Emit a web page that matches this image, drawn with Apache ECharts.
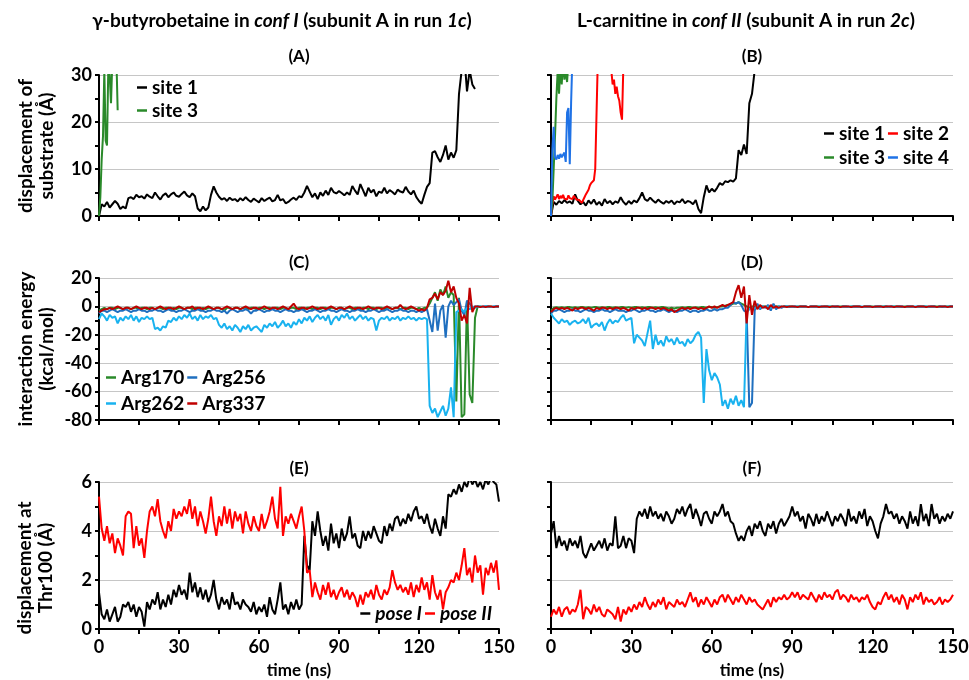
<!DOCTYPE html>
<html>
<head>
<meta charset="utf-8">
<script src="https://cdn.jsdelivr.net/npm/echarts@6/dist/echarts.min.js"></script>
<style>
  html, body { margin: 0; padding: 0; background: #fff; }
  #main { width: 969px; height: 680px; }
</style>
</head>
<body>
<div id="main"></div>
<script>
// time step of the sampled traces (ns)
var STEP = 1;
var STEP_FINE = 0.5;

// (A) displacement of substrate, gamma-butyrobetaine
var aSite1 = [0,2.5,2.0,3.0,1.8,2.5,3.2,2.6,1.5,2.0,1.6,3.8,4.0,3.6,4.5,4.0,4.2,3.7,4.6,4.1,
  3.8,5.0,4.2,3.5,4.4,4.8,4.0,4.6,5.0,4.3,4.1,4.7,5.2,4.4,4.0,4.8,4.2,1.6,1.0,2.0,
  1.2,1.8,4.5,6.3,5.0,4.1,3.5,3.8,3.2,3.9,3.4,3.6,3.1,3.8,3.3,4.0,3.4,3.0,3.7,3.3,
  2.9,3.8,3.2,3.6,3.9,3.1,3.4,4.5,3.3,3.6,2.7,3.0,3.5,3.9,3.4,4.2,4.0,5.0,6.4,5.2,
  4.0,4.8,3.6,5.0,4.3,5.4,4.5,6.0,5.1,4.8,5.3,4.9,4.4,5.0,4.5,6.4,5.4,4.6,6.8,5.5,
  4.2,6.0,5.0,5.6,4.2,5.2,4.9,6.0,4.8,5.5,5.1,4.6,5.6,5.2,5.0,6.2,5.2,4.6,5.4,4.0,
  3.2,2.6,4.5,6.2,7.0,13.5,13.8,12.5,11.5,13.0,15.0,12.0,13.5,12.4,14.0,26.0,31.0,34.0,26.5,31.0,
  28.0,27.0];
var aSite3 = [0,4,12,17,31,16,15,32,30,24,33,35,31,34,22.5];   // 0.5 ns step

// (B) displacement of substrate, L-carnitine
var bSite1 = [0,3.0,2.4,3.2,2.7,3.4,2.8,3.1,2.6,4.6,3.2,2.5,3.0,2.2,3.3,2.6,3.5,2.4,3.0,2.2,
  3.6,2.7,3.2,2.5,3.1,2.8,4.0,3.0,2.4,3.2,2.6,3.3,2.9,3.8,5.0,3.6,3.2,3.9,3.3,2.8,
  3.5,3.0,2.6,3.2,2.8,3.3,2.5,3.1,2.9,3.6,2.7,3.2,3.0,2.5,3.4,1.5,0.6,4.0,6.5,5.0,
  5.8,5.2,6.0,7.0,6.6,7.4,7.2,7.6,7.3,8.0,14.0,13.0,15.2,13.2,24.0,26.0,31.0];
var bSite2 = [0,2.5,4.2,3.5,3.9,4.6,3.6,4.3,3.8,4.5,3.7,4.1,3.5,4.4,3.8,4.2,3.6,4.3,3.9,3.5,
  3.9,3.4,3.2,2.8,3.2,4.0,4.6,5.0,5.6,6.5,7.0,7.2,7.6,10,22,34,40,40,40,40,
  40,40,40,40,40,31,28,29,26,27.5,25.5,24.5,22,20.5,32];      // 0.5 ns step
var bSite3 = [0,3,10,17,25,31,26,32,28,33,29,31,28.5,33];        // 0.5 ns step
var bSite4 = [0,14,19,12.5,12,13,12.2,13.2,12.5,12.8,13.5,11.5,22,23,11,24,34]; // 0.5 ns step

// (C) interaction energy, gamma-butyrobetaine
var cArg170 = [-3,-2,-1,-2,-1,-1,-2,-1,-1,-2,-1,-1,-2,-1,-1,-2,-1,-1,-2,-1,
  -1,-2,-1,-1,-2,-1,-1,-2,-1,-2,-1,-1,-2,-1,-1,-2,-1,-1,-2,-1,
  -2,-1,-1,-2,-1,-1,-2,-3,-1,-1,-2,-1,-1,-2,-1,-1,-2,-1,-1,-2,
  -1,-1,-2,-1,-1,-2,-1,-1,-2,-1,-1,-2,-1,-1,-2,-1,-1,-2,-1,-1,
  -2,-1,-1,-2,-1,-1,-2,-1,-1,-2,-1,-1,-2,-1,-1,-2,-1,-1,-2,-1,
  -1,-2,-1,-1,-2,-1,-1,-2,-1,-1,-2,-1,-1,-2,-1,-1,-2,-1,-1,-2,
  -1,-2,-1,-1,2,6,10,4,12,8,14,6,10,8,-67,6,-78,-76,4,-62,
  -68,-8,0,0,-0.5,0,0,0,-0.5,0,0];
var cArg256 = [-5,-3,-3,-4,-3,-2,-3,-4,-3,-3,-2,-3,-4,-3,-3,-2,-3,-3,-4,-3,
  -3,-2,-3,-3,-4,-3,-2,-3,-3,-4,-3,-3,-2,-3,-4,-3,-3,-2,-3,-3,
  -4,-3,-3,-2,-3,-3,-4,-3,-5,-3,-2,-3,-4,-3,-3,-2,-3,-5,-3,-3,
  -2,-3,-4,-3,-3,-2,-3,-3,-4,-3,-2,-3,-3,-4,-3,-3,-2,-3,-4,-3,
  -3,-2,-3,-4,-3,-3,-2,-3,-3,-4,-3,-2,-3,-3,-4,-3,-3,-2,-3,-3,
  -4,-3,-3,-2,-3,-4,-3,-3,-2,-3,-4,-3,-3,-2,-3,-3,-4,-3,-3,-4,
  -3,-4,-3,-2,-10,-18,2,-17,-3,1,-22,0,4,1,3,5,-3,-6,4,2,
  -1,0,0,-0.5,0,0,0,-0.5,0,0,0];
var cArg262 = [-9,-5,-7,-10,-6,-8,-7,-12,-8,-10,-7,-9,-6,-10,-7,-11,-8,-9,-7,-9,
  -8,-16,-15,-17,-14,-15,-10,-11,-8,-10,-7,-9,-6,-8,-5,-9,-7,-10,-6,-9,
  -7,-8,-6,-9,-8,-13,-15,-12,-16,-14,-17,-13,-15,-18,-14,-16,-13,-17,-15,-14,
  -16,-18,-13,-15,-12,-14,-11,-15,-13,-10,-14,-12,-15,-11,-13,-9,-12,-8,-10,-7,
  -11,-8,-6,-9,-7,-10,-6,-13,-9,-7,-10,-6,-8,-5,-9,-7,-10,-8,-6,-9,
  -7,-10,-8,-9,-17,-10,-8,-9,-7,-10,-8,-9,-7,-10,-8,-9,-7,-9,-8,-10,
  -8,-9,-8,-9,-70,-75,-72,-78,-74,-70,-77,-72,-57,-78,-4,-3,-2,-4,-1,-2,
  0,-1,0,0,-0.5,0,0,-0.5,0,0,0];
var cArg337 = [-4,-3,-2,-2,-1,-2,-1,0,-1,-2,-1,-1,-2,-1,0,-1,-2,-1,-1,-2,
  -1,-2,-1,0,-1,-2,-1,-1,-2,-1,0,-1,-2,-1,-1,0,-2,-1,-1,-2,
  -1,0,-1,-2,-1,-1,-2,-1,0,-1,-2,-1,-1,-2,-1,0,-1,-2,-1,-1,
  -2,-1,0,-1,-2,-1,-1,-2,-1,0,-1,-2,0,2,-1,-2,-1,-1,-2,-1,
  0,-1,-2,-1,-1,-2,-1,0,-1,-2,-1,-1,-2,-1,0,-1,-2,-1,-1,-2,
  -1,0,-1,-2,-1,-1,-2,-1,0,-1,-2,-1,-1,1,-1,-2,-1,0,-1,-2,
  -3,-2,-3,-1,5,6,9,5,10,8,11,18,10,14,6,2,-10,-6,-12,13,
  -4,0,0,-0.5,0,-0.5,0,0,-0.5,0,0];

// (D) interaction energy, L-carnitine
var dArg170 = [-3,-1,-0.5,-1,-0.5,-1,-0.5,-0.5,-1,-0.5,-1,-0.5,-0.5,-1,-0.5,-1,-0.5,-0.5,-1,-0.5,
  -1,-0.5,-0.5,-1,-0.5,-1,-0.5,-0.5,-1,-0.5,-1,-0.5,-0.5,-1,-0.5,-1,-0.5,-0.5,-1,-0.5,
  -1,-0.5,-0.5,-1,-1.5,-1,-1.5,-1,-1,-0.5,-1,-0.5,-0.5,-1,-0.5,-1,-0.5,-0.5,-1,-0.5,
  -0.5,-1,-0.5,0,0,0.5,1,1,2,2,3,2,1,0,-1,0,0,0,0,0,
  0,-0.5,0,0,0,0,-0.5,0,0,0,0,-0.5,0,0,0,0,-0.5,0,0,0,
  0,-0.5,0,0,0,0,-0.5,0,0,0,0,-0.5,0,0,0,0,-0.5,0,0,0,
  0,-0.5,0,0,0,0,-0.5,0,0,0,0,-0.5,0,0,0,0,-0.5,0,0,0,
  0,-0.5,0,0,0,0,-0.5,0,0,0,0];
var dArg256 = [-5,-3,-3,-2,-3,-4,-3,-3,-2,-3,-3,-4,-3,-2,-3,-3,-4,-3,-3,-2,
  -3,-3,-4,-3,-2,-3,-3,-3,-4,-3,-3,-2,-3,-4,-3,-3,-2,-3,-3,-4,
  -3,-3,-2,-3,-4,-3,-3,-4,-3,-3,-2,-3,-4,-3,-3,-4,-3,-3,-2,-3,
  -3,-2,-3,-2,-2,-1,-1,1,3,2,3,1,-3,-4,-71,-68,-3,2,-2,0,
  -1,1,-3,2,-2,0,-1,0,0,-0.5,0,0,-0.5,0,0,0,-0.5,0,0,0,
  -0.5,0,0,0,-0.5,0,0,0,-0.5,0,0,0,-0.5,0,0,0,-0.5,0,0,0,
  -0.5,0,0,0,-0.5,0,0,0,-0.5,0,0,0,-0.5,0,0,0,-0.5,0,0,0,
  -0.5,0,0,0,-0.5,0,0,0,-0.5,0,0];
var dArg262 = [-5,-8,-10,-12,-9,-11,-10,-13,-11,-10,-12,-11,-9,-12,-8,-15,-13,-12,-14,-11,
  -17,-12,-9,-12,-10,-11,-8,-6,-10,-9,-8,-26,-20,-22,-24,-28,-19,-10,-30,-20,
  -27,-24,-28,-21,-25,-23,-27,-22,-26,-25,-28,-23,-26,-24,-20,-18,-22,-68,-30,-45,
  -52,-47,-50,-55,-70,-66,-72,-65,-69,-63,-70,-66,-71,-4,-2,-1,-1,0,-1,0,
  -0.5,0,-1,0,-0.5,0,0,-0.5,0,0,-0.5,0,0,-0.5,0,0,-0.5,0,0,-0.5,
  0,0,-0.5,0,0,-0.5,0,0,-0.5,0,0,-0.5,0,0,-0.5,0,0,-0.5,0,0,
  -0.5,0,0,-0.5,0,0,-0.5,0,0,-0.5,0,0,-0.5,0,0,-0.5,0,0,-0.5,0,
  0,-0.5,0,0,-0.5,0,0,-0.5,0,0,0];
var dArg337 = [-4,-2,-1,-2,-1,-2,-1,-2,-3,-1,-2,-1,-1,-2,-1,-2,-3,-1,-2,-1,
  -1,-2,-1,-2,-1,-1,-2,-1,-2,-3,-1,-2,-1,-1,-2,-1,-2,-1,-1,-2,
  -1,-2,-1,-2,-3,-2,-4,-3,-2,-1,-2,-1,-2,-1,-1,-2,-1,-2,-1,0,
  -1,0,-1,0,1,0,1,2,3,10,15,6,14,-12,8,-6,4,-2,1,-1,
  0,-2,1,-1,0,-1,0,0,-0.5,0,0,0,-0.5,0,0,0,-0.5,0,0,0,
  -0.5,0,0,0,-0.5,0,0,0,-0.5,0,0,0,-0.5,0,0,0,-0.5,0,0,0,
  -0.5,0,0,0,-0.5,0,0,0,-0.5,0,0,0,-0.5,0,0,0,-0.5,0,0,0,
  -0.5,0,0,0,-0.5,0,0,0,-0.5,0,0];

// (E) displacement at Thr100, gamma-butyrobetaine
var ePose1 = [1.5,0.6,0.4,0.8,0.3,0.6,0.9,0.3,0.5,1.0,0.9,1.1,0.7,1.0,0.5,0.9,0.7,0.1,1.1,0.8,
  1.2,1.0,1.5,0.8,1.2,0.9,1.4,1.0,1.6,1.3,1.8,1.4,1.6,1.2,2.3,1.5,1.9,1.3,1.7,1.2,
  1.6,1.1,1.4,2.0,1.2,0.8,1.3,1.0,1.2,0.8,1.5,1.0,1.1,0.8,1.2,1.0,0.9,0.7,1.1,0.6,
  0.9,0.7,1.0,0.5,1.3,0.8,0.6,1.2,1.9,0.8,1.0,0.6,1.1,0.8,1.2,0.8,1.0,3.8,2.6,2.4,
  4.4,3.8,4.8,4.0,3.4,3.8,3.2,4.3,3.5,3.9,3.3,4.1,3.6,3.9,4.6,3.7,3.9,3.4,3.3,4.0,
  3.6,4.0,3.7,4.2,3.9,3.6,3.5,4.2,3.8,4.3,4.0,4.5,4.6,4.2,4.5,4.3,4.7,4.4,4.8,5.0,
  4.5,4.6,4.3,4.7,4.2,3.9,4.5,4.1,3.8,4.6,4.1,5.5,5.4,5.7,5.5,5.9,5.6,6.0,5.8,6.2,
  5.9,6.1,5.8,6.0,5.7,6.1,5.9,6.2,6.0,5.9,5.2];
var ePose2 = [5.4,4.1,3.6,4.2,3.5,3.9,3.1,3.7,3.4,3.0,4.6,4.8,4.7,3.3,4.2,3.4,3.7,2.9,4.0,4.8,
  5.0,4.6,5.3,4.4,4.0,3.7,4.4,4.0,4.9,4.5,4.8,4.6,5.0,4.7,5.3,4.5,5.0,4.2,4.8,4.4,
  3.9,4.5,5.4,4.4,3.8,4.6,4.2,5.0,4.3,4.9,4.1,4.8,4.4,4.7,3.9,4.8,4.3,4.0,4.6,4.2,
  4.0,4.7,4.1,4.4,4.8,5.4,4.5,4.1,5.8,3.8,4.6,4.3,4.7,4.4,4.1,4.6,5.0,4.0,2.3,2.4,
  1.3,1.9,1.5,1.2,1.8,1.4,1.9,1.3,1.6,1.2,1.5,1.7,1.3,1.6,1.2,1.5,1.3,0.9,1.4,1.0,
  1.5,1.3,1.6,1.2,1.8,1.4,1.2,1.6,1.4,1.7,2.4,1.9,1.6,1.8,1.5,1.7,1.4,1.9,1.3,1.8,
  1.5,2.1,1.6,1.9,1.2,2.2,1.5,1.2,1.6,0.8,1.5,1.7,2.0,1.9,2.3,2.0,2.6,3.3,2.2,2.5,
  1.9,3.0,2.3,2.6,1.4,2.5,2.2,2.7,2.3,2.8,1.6];

// (F) displacement at Thr100, L-carnitine
var fPose1 = [3.9,4.4,3.3,3.8,3.4,3.6,3.2,3.7,3.4,3.6,3.3,3.8,3.1,2.9,3.2,3.5,3.2,3.4,3.6,3.3,
  3.7,3.2,3.5,3.4,4.6,3.3,3.4,3.8,3.3,3.7,3.6,3.1,4.5,4.8,4.6,4.9,4.5,5.0,4.6,4.8,
  4.5,4.7,4.4,4.8,4.6,4.3,4.5,4.9,4.7,5.0,4.6,4.9,5.1,4.5,4.9,4.6,4.2,4.7,4.8,4.5,
  4.3,4.8,4.6,4.8,5.1,4.6,4.8,4.4,4.3,3.9,3.6,3.8,3.6,4.0,4.2,3.8,4.3,4.1,4.4,4.0,
  3.8,4.3,4.1,4.4,3.9,4.3,4.5,4.2,4.4,4.6,5.0,4.6,4.8,4.4,4.6,4.1,4.7,4.5,4.2,4.7,
  4.3,4.6,4.4,4.8,4.5,4.2,4.6,4.4,4.7,4.5,4.2,4.9,4.4,4.6,4.3,4.8,4.5,4.9,4.2,4.6,
  4.4,4.0,3.7,4.3,4.6,5.1,4.7,4.8,4.5,4.7,4.3,4.6,4.4,4.1,4.8,4.3,4.6,4.2,5.1,4.4,
  4.7,4.2,5.1,4.5,4.7,4.3,4.6,4.4,4.7,4.5,4.8];
var fPose2 = [0.5,0.8,0.6,0.9,0.5,0.8,0.9,0.6,0.8,0.7,1.0,1.6,0.4,0.9,0.8,0.6,1.0,0.7,0.9,0.6,
  0.5,0.8,0.7,0.6,0.4,0.9,0.3,0.8,0.6,0.9,0.7,1.0,0.8,1.1,0.9,1.3,1.0,0.8,1.1,0.9,
  1.2,1.0,1.3,0.8,1.1,1.0,0.9,1.2,1.0,1.1,0.9,1.2,1.5,1.1,1.3,0.9,1.2,1.0,1.3,1.1,
  0.9,1.2,1.0,1.3,1.4,1.1,1.4,1.2,1.0,1.3,1.1,1.4,1.2,1.0,1.3,1.1,1.2,1.0,0.9,0.8,
  1.0,1.2,0.9,1.3,1.1,1.3,1.2,1.4,1.2,1.3,1.5,1.3,1.5,1.2,1.4,1.3,1.2,1.5,1.3,1.1,
  1.4,1.2,1.5,1.3,1.4,1.2,1.5,1.6,1.2,1.4,1.3,1.1,1.4,1.2,1.3,1.1,1.3,1.2,1.4,1.1,
  0.9,0.8,1.1,1.0,1.3,1.5,1.2,1.4,1.1,1.3,1.0,1.4,1.2,0.8,1.3,1.1,1.4,1.2,1.5,1.0,
  1.3,1.1,1.2,1.0,1.1,1.3,1.0,1.2,1.1,1.2,1.4];

// axis ranges per row: [min, max, interval]
var rowRanges = [[0, 30, 10], [-80, 20, 20], [0, 6, 2]];
var timeRange = [0, 150, 30];

var FONT = 'Lato, "Open Sans", sans-serif';
var C = {
    black: '#000000', red: '#ff0000', green: '#2a8a2a', blue: '#1f72e6',
    a170: '#2a8a2a', a256: '#1f6fbf', a262: '#19b2ef', a337: '#c00000'
};

function pts(vals, step) {
    return vals.map(function (v, i) { return [i * step, v]; });
}

function line(name, color, vals, step, g) {
    return {
        name: name, type: 'line', xAxisIndex: g, yAxisIndex: g,
        data: pts(vals, step), showSymbol: false, symbol: 'none',
        lineStyle: { color: color, width: 2 }, itemStyle: { color: color },
        emphasis: { disabled: true }, silent: true
    };
}

var grids = [
    { left: 99, top: 75, width: 400, height: 141 },
    { left: 551, top: 75, width: 402, height: 141 },
    { left: 99, top: 278, width: 400, height: 142 },
    { left: 551, top: 278, width: 402, height: 142 },
    { left: 99, top: 482, width: 400, height: 147 },
    { left: 551, top: 482, width: 402, height: 147 }
].map(function (g) { g.outerBoundsMode = 'none'; g.containLabel = false; return g; });

var axisBlack = { color: '#000', width: 2 };
var labelStyle = { fontFamily: FONT, fontSize: 18, fontWeight: 'bold', color: '#000' };

var xAxes = grids.map(function (g, i) {
    return {
        type: 'value', gridIndex: i, min: timeRange[0], max: timeRange[1], interval: timeRange[2],
        axisLine: { show: true, onZero: false, lineStyle: axisBlack },
        axisTick: { show: true, length: 5, lineStyle: axisBlack },
        minorTick: { show: true, splitNumber: 2, length: 5, lineStyle: axisBlack },
        splitLine: { show: false },
        axisLabel: Object.assign({ show: i >= 4, margin: 9 }, labelStyle)
    };
});

var yAxes = grids.map(function (g, i) {
    var r = rowRanges[Math.floor(i / 2)];
    return {
        type: 'value', gridIndex: i, min: r[0], max: r[1], interval: r[2],
        axisLine: { show: true, onZero: false, lineStyle: axisBlack },
        axisTick: { show: true, length: 4, lineStyle: axisBlack },
        minorTick: { show: true, splitNumber: 2, length: 4, lineStyle: axisBlack },
        splitLine: { show: true, lineStyle: { color: '#c6c6c6', width: 1 } },
        axisLabel: Object.assign({ show: i % 2 === 0, margin: 7 }, labelStyle)
    };
});

var series = [
    line('site 1', C.black, aSite1, STEP, 0),
    line('site 3', C.green, aSite3, STEP_FINE, 0),
    line('site 1', C.black, bSite1, STEP, 1),
    line('site 2', C.red, bSite2, STEP_FINE, 1),
    line('site 3', C.green, bSite3, STEP_FINE, 1),
    line('site 4', C.blue, bSite4, STEP_FINE, 1),
    line('Arg170', C.a170, cArg170, STEP, 2),
    line('Arg256', C.a256, cArg256, STEP, 2),
    line('Arg262', C.a262, cArg262, STEP, 2),
    line('Arg337', C.a337, cArg337, STEP, 2),
    line('Arg170', C.a170, dArg170, STEP, 3),
    line('Arg256', C.a256, dArg256, STEP, 3),
    line('Arg262', C.a262, dArg262, STEP, 3),
    line('Arg337', C.a337, dArg337, STEP, 3),
    line('pose I', C.black, ePose1, STEP, 4),
    line('pose II', C.red, ePose2, STEP, 4),
    line('pose I', C.black, fPose1, STEP, 5),
    line('pose II', C.red, fPose2, STEP, 5)
];

function legendText(italic) {
    return { fontFamily: FONT, fontSize: 19, fontWeight: 'bold', fontStyle: italic ? 'italic' : 'normal',
        color: '#000' };
}

function legend(names, pos, extra) {
    return Object.assign({
        data: names, icon: 'rect', itemWidth: 10, itemHeight: 2.5, itemGap: 3,
        padding: 0, selectedMode: false, textStyle: legendText(false)
    }, pos, extra || {});
}

var legends = [
    legend(['site 1', 'site 3'], { left: 137, top: 78 }, { orient: 'vertical', itemGap: 4 }),
    legend(['site 1', 'site 2'], { left: 824, top: 124 }),
    legend(['site 3', 'site 4'], { left: 824, top: 148 }),
    legend(['Arg170', 'Arg256'], { left: 106, top: 368 }),
    legend(['Arg262', 'Arg337'], { left: 106, top: 394 }),
    legend(['pose I', 'pose II'], { right: 477, top: 604 }, { textStyle: legendText(true) })
];

// column headings (title component handles rich text reliably)
var headRich = {
    n: { fontFamily: FONT, fontSize: 19, fontWeight: 'bold', color: '#000' },
    i: { fontFamily: FONT, fontSize: 19, fontWeight: 'bold', fontStyle: 'italic', color: '#000' }
};
var titles = [
    { text: '{n|γ-butyrobetaine in }{i|conf I}{n| (subunit A in run }{i|1c}{n|)}', left: 282, top: 11 },
    { text: '{n|L-carnitine in }{i|conf II}{n| (subunit A in run }{i|2c}{n|)}', left: 746, top: 11 }
].map(function (t) {
    t.textAlign = 'center'; t.padding = 0;
    t.textStyle = { rich: headRich, fontSize: 19, fontFamily: FONT };
    return t;
});

function txt(text, x, y, size, rot) {
    return {
        type: 'text', x: x, y: y, rotation: rot || 0, silent: true,
        style: {
            text: text, fill: '#000', fontFamily: FONT, fontSize: size, fontWeight: 'bold',
            align: 'center', verticalAlign: 'middle'
        }
    };
}
var ROT = Math.PI / 2;

var texts = [
    txt('(A)', 299, 57, 17), txt('(B)', 752, 57, 17),
    txt('(C)', 299, 263, 17), txt('(D)', 752, 263, 17),
    txt('(E)', 299, 469, 17), txt('(F)', 752, 469, 17),
    txt('displacement of', 26, 146, 19, ROT), txt('substrate (Å)', 47, 146, 19, ROT),
    txt('interaction energy', 26, 349, 19, ROT), txt('(kcal/mol)', 47, 349, 19, ROT),
    txt('displacement at', 25, 568, 19, ROT), txt('Thr100 (Å)', 46, 568, 19, ROT),
    txt('time (ns)', 299, 671, 17), txt('time (ns)', 752, 671, 17)
];

var myChart = echarts.init(document.getElementById('main'), null, { renderer: 'canvas' });
myChart.setOption({
    animation: false,
    backgroundColor: '#fff',
    title: titles,
    grid: grids,
    xAxis: xAxes,
    yAxis: yAxes,
    legend: legends,
    series: series,
    graphic: { elements: texts }
});
</script>
</body>
</html>
